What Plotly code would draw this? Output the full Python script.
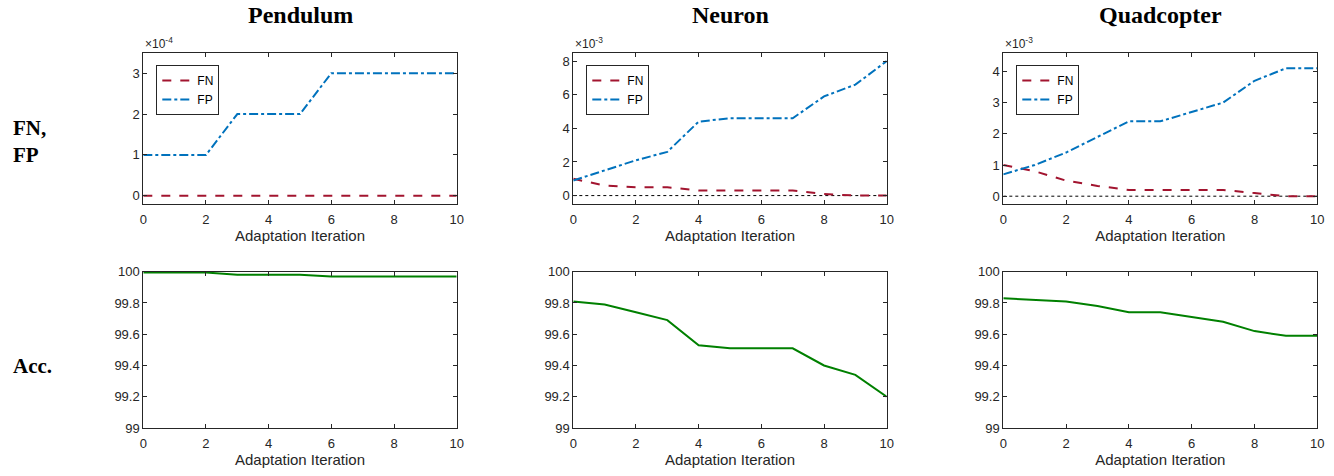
import plotly.graph_objects as go

iters = list(range(11))
systems = ["Pendulum", "Neuron", "Quadcopter"]

pend_fn = [0, 0, 0, 0, 0, 0, 0, 0, 0, 0, 0]
pend_fp = [1, 1, 1, 2, 2, 2, 3, 3, 3, 3, 3]
pend_acc = [99.995, 99.995, 99.995, 99.98, 99.98, 99.98, 99.97, 99.97, 99.97, 99.97, 99.97]

neur_fn = [1.0, 0.6, 0.5, 0.5, 0.3, 0.3, 0.3, 0.3, 0.1, 0.0, 0.0]
neur_fp = [0.9, 1.5, 2.1, 2.6, 4.4, 4.6, 4.6, 4.6, 5.9, 6.6, 8.0]
neur_acc = [99.81, 99.79, 99.74, 99.69, 99.53, 99.51, 99.51, 99.51, 99.40, 99.34, 99.20]

quad_fn = [1.0, 0.8, 0.5, 0.33, 0.2, 0.2, 0.2, 0.2, 0.1, 0.0, 0.0]
quad_fp = [0.7, 1.0, 1.4, 1.9, 2.4, 2.4, 2.7, 3.0, 3.7, 4.1, 4.1]
quad_acc = [99.83, 99.82, 99.81, 99.78, 99.74, 99.74, 99.71, 99.68, 99.62, 99.59, 99.59]

fn_series = [pend_fn, neur_fn, quad_fn]
fp_series = [pend_fp, neur_fp, quad_fp]
acc_series = [pend_acc, neur_acc, quad_acc]
exponents = ["-4", "-3", "-3"]
top_ranges = [[-0.2, 3.5], [-0.5, 8.5], [-0.25, 4.6]]
top_ticks = [[0, 1, 2, 3], [0, 2, 4, 6, 8], [0, 1, 2, 3, 4]]
show_zero_line = [False, True, True]
acc_ticks = [99, 99.2, 99.4, 99.6, 99.8, 100]
acc_ticktext = ["99", "99.2", "99.4", "99.6", "99.8", "100"]
x_ticks = [0, 2, 4, 6, 8, 10]

W, H = 1334, 476
xdoms_px = [(143.3, 456.7), (573.3, 886.7), (1003.3, 1317.3)]
top_px = (52.7, 204.0)
bot_px = (271.7, 428.0)

FN_COLOR = "#A2142F"
FP_COLOR = "#0072BD"
ACC_COLOR = "#008000"
AX_COLOR = "#262626"
SANS = "Liberation Sans, Arial, sans-serif"
SERIF = "Liberation Serif, Times New Roman, serif"

fig = go.Figure()

def xd(i):
    a, b = xdoms_px[i]
    return [a / W, b / W]

def yd(p):
    return [1 - p[1] / H, 1 - p[0] / H]

axis_common = dict(
    showline=True, linecolor=AX_COLOR, linewidth=1, mirror="ticks",
    ticks="inside", ticklen=4, tickcolor=AX_COLOR, showgrid=False, zeroline=False,
    tickfont=dict(family=SANS, size=13, color=AX_COLOR), automargin=False,
)
title_font = dict(family=SANS, size=15, color=AX_COLOR)

for i in range(3):
    top_idx = 2 * i + 1
    bot_idx = 2 * i + 2
    xt = "x" if top_idx == 1 else f"x{top_idx}"
    yt = "y" if top_idx == 1 else f"y{top_idx}"
    xb = f"x{bot_idx}"
    yb = f"y{bot_idx}"
    leg = "legend" if i == 0 else f"legend{i + 1}"

    if show_zero_line[i]:
        fig.add_trace(go.Scatter(x=[iters[0], iters[-1]], y=[0, 0], mode="lines",
                                 line=dict(color="black", width=1, dash="dot"),
                                 xaxis=xt, yaxis=yt, showlegend=False, hoverinfo="skip"))
    fig.add_trace(go.Scatter(x=iters, y=fn_series[i], mode="lines", name="FN",
                             line=dict(color=FN_COLOR, width=2, dash="dash"),
                             xaxis=xt, yaxis=yt, legend=leg))
    fig.add_trace(go.Scatter(x=iters, y=fp_series[i], mode="lines", name="FP",
                             line=dict(color=FP_COLOR, width=2, dash="dashdot"),
                             xaxis=xt, yaxis=yt, legend=leg))
    fig.add_trace(go.Scatter(x=iters, y=acc_series[i], mode="lines", name="Acc",
                             line=dict(color=ACC_COLOR, width=2),
                             xaxis=xb, yaxis=yb, showlegend=False))

    xkey_t = "xaxis" if top_idx == 1 else f"xaxis{top_idx}"
    ykey_t = "yaxis" if top_idx == 1 else f"yaxis{top_idx}"
    fig.layout[xkey_t] = dict(axis_common, domain=xd(i), anchor=yt, range=[0, 10],
                              tickvals=x_ticks, ticklabelstandoff=3,
                              title=dict(text="Adaptation Iteration", font=title_font, standoff=1))
    fig.layout[ykey_t] = dict(axis_common, domain=yd(top_px), anchor=xt,
                              range=top_ranges[i], tickvals=top_ticks[i])
    fig.layout[f"xaxis{bot_idx}"] = dict(axis_common, domain=xd(i), anchor=yb, range=[0, 10],
                                         tickvals=x_ticks, ticklabelstandoff=3,
                                         title=dict(text="Adaptation Iteration", font=title_font, standoff=1))
    fig.layout[f"yaxis{bot_idx}"] = dict(axis_common, domain=yd(bot_px), anchor=xb,
                                         range=[99, 100], tickvals=acc_ticks, ticktext=acc_ticktext)

    fig.layout[leg] = dict(
        x=(xdoms_px[i][0] + 13) / W, y=1 - 65 / H, xanchor="left", yanchor="top",
        bgcolor="white", bordercolor=AX_COLOR, borderwidth=1,
        font=dict(family=SANS, size=12, color="black"),
        itemwidth=30, tracegroupgap=0,
    )

    fig.add_annotation(
        x=xdoms_px[i][0] / W, y=1 - top_px[0] / H, xref="paper", yref="paper",
        xanchor="left", yanchor="bottom", showarrow=False,
        text=f"×10<sup>{exponents[i]}</sup>",
        font=dict(family=SANS, size=12, color=AX_COLOR),
    )
    fig.add_annotation(
        x=(xdoms_px[i][0] + xdoms_px[i][1]) / 2 / W, y=1 - 15 / H, xref="paper", yref="paper",
        xanchor="center", yanchor="middle", showarrow=False,
        text=f"<b>{systems[i]}</b>",
        font=dict(family=SERIF, size=24, color="black"),
    )

fig.add_annotation(x=11 / W, y=1 - 141 / H, xref="paper", yref="paper", xanchor="left",
                   yanchor="middle", align="left", showarrow=False,
                   text="<b>FN,</b><br><b>FP</b>",
                   font=dict(family=SERIF, size=21, color="black"))
fig.add_annotation(x=11 / W, y=1 - 366 / H, xref="paper", yref="paper", xanchor="left",
                   yanchor="middle", align="left", showarrow=False,
                   text="<b>Acc.</b>",
                   font=dict(family=SERIF, size=21, color="black"))

fig.update_layout(
    template="none",
    width=W, height=H, margin=dict(l=0, r=0, t=0, b=0),
    paper_bgcolor="white", plot_bgcolor="white",
)

fig.write_html("out.html", config={"displayModeBar": False},
               post_script="document.body.style.margin='0';document.body.style.overflow='hidden';")
